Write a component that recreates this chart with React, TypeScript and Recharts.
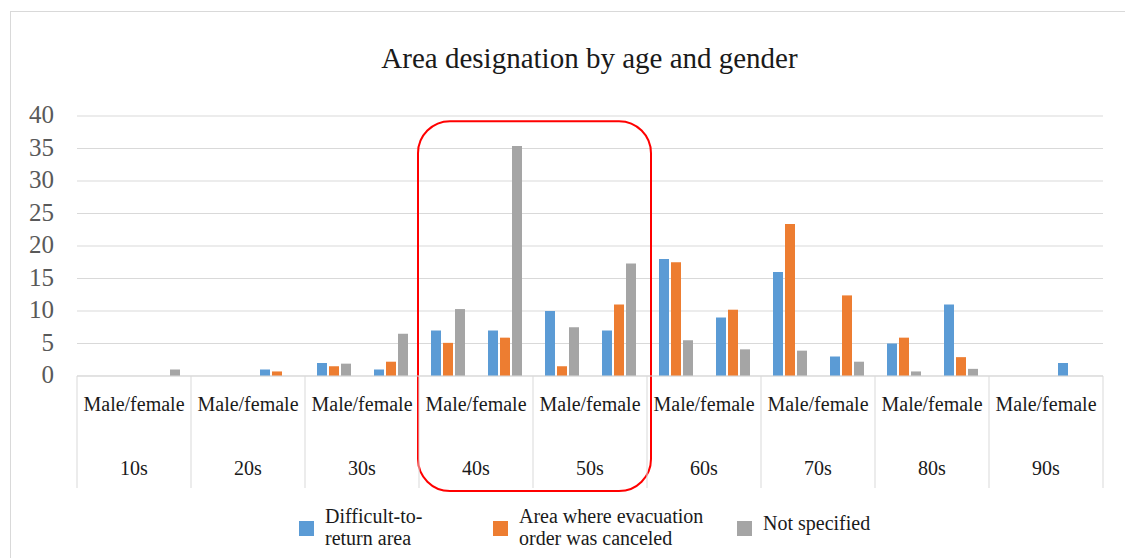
import { BarChart, Bar, XAxis, YAxis, CartesianGrid, Legend, ReferenceArea } from "recharts";

const AGES = ["10s", "20s", "30s", "40s", "50s", "60s", "70s", "80s", "90s"];
const GENDERS = ["Male", "Female"];
const PAIR_LABEL = "Male/female";

// one value per age × gender, male first
const DIFFICULT = [0, 0, 0, 1, 2, 1, 7, 7, 10, 7, 18, 9, 16, 3, 5, 11, 0, 2];
const CANCELED = [0, 0, 0, 0.7, 1.5, 2.2, 5.1, 5.9, 1.5, 11, 17.5, 10.2, 23.4, 12.4, 5.9, 2.9, 0, 0];
const UNSPECIFIED = [0, 1, 0, 0, 1.9, 6.5, 10.3, 35.4, 7.5, 17.3, 5.5, 4.1, 3.9, 2.2, 0.7, 1.1, 0, 0];

const Y_TICKS = [0, 5, 10, 15, 20, 25, 30, 35, 40];

const SERIES = [
  { key: "difficult", name: "Difficult-to-return area", lines: ["Difficult-to-", "return area"], color: "#5b9bd5" },
  { key: "canceled", name: "Area where evacuation order was canceled", lines: ["Area where evacuation", "order was canceled"], color: "#ed7d31" },
  { key: "unspecified", name: "Not specified", lines: ["Not specified"], color: "#a5a5a5" },
];

const rows = AGES.flatMap((age, i) =>
  GENDERS.map((g, j) => {
    const k = i * 2 + j;
    return {
      key: `${age} ${g}`,
      age,
      difficult: DIFFICULT[k],
      canceled: CANCELED[k],
      unspecified: UNSPECIFIED[k],
    };
  })
);

const SERIF = "Liberation Serif";
const GRID = "#d9d9d9";

function AgeTick(props: any) {
  const { x, y, payload, index, visibleTicksCount } = props;
  const half = payload?.offset ?? 57;
  return (
    <g>
      <line x1={x - half} x2={x - half} y1={y} y2={y + 112} stroke={GRID} />
      {index === visibleTicksCount - 1 && (
        <line x1={x + half} x2={x + half} y1={y} y2={y + 112} stroke={GRID} />
      )}
      <text x={x} y={y + 35} textAnchor="middle" fontFamily={SERIF} fontSize={20} fill="#1a1a1a">
        {PAIR_LABEL}
      </text>
      <text x={x} y={y + 99} textAnchor="middle" fontFamily={SERIF} fontSize={20} fill="#1a1a1a">
        {payload.value}
      </text>
    </g>
  );
}

function ValueTick(props: any) {
  const { x, y, payload } = props;
  return (
    <text x={x} y={y + 7} textAnchor="end" fontFamily={SERIF} fontSize={25} fill="#595959">
      {payload.value}
    </text>
  );
}

function RedBox(props: any) {
  const { x, y, width, height } = props;
  return (
    <rect x={x - 1} y={y} width={width + 5} height={height} rx={32} ry={32}
      fill="none" stroke="#ff0000" strokeWidth={2} />
  );
}

function LegendBox() {
  const widths = [194, 244, 200];
  return (
    <div style={{ display: "flex", paddingLeft: 299, fontFamily: SERIF, fontSize: 20, color: "#1a1a1a" }}>
      {SERIES.map((s, i) => (
        <div key={s.key} style={{ width: widths[i], display: "flex", alignItems: "center" }}>
          <span style={{ width: 15, height: 15, background: s.color, flex: "none", marginTop: 2 }} />
          <span
            style={{
              marginLeft: 11, lineHeight: "22px", whiteSpace: "nowrap",
              marginTop: s.lines.length === 1 ? -8 : 0,
            }}
          >
            {s.lines.map((l) => (
              <div key={l}>{l}</div>
            ))}
          </span>
        </div>
      ))}
    </div>
  );
}

export default function App() {
  return (
    <div style={{ position: "absolute", left: 0, top: 0, width: 1125, height: 558, overflow: "hidden", background: "#fff" }}>
      <div style={{ position: "absolute", left: 10, top: 11, width: 1200, height: 700, border: `1px solid ${GRID}` }} />
      <div
        style={{
          position: "absolute", top: 44, left: 0, width: 1125, paddingLeft: 54, boxSizing: "border-box",
          textAlign: "center", fontFamily: SERIF, fontSize: 29, lineHeight: "29px", color: "#1a1a1a",
        }}
      >
        Area designation by age and gender
      </div>
      <BarChart
        width={1125}
        height={558}
        data={rows}
        margin={{ top: 116, right: 22, left: 0, bottom: 67 }}
        barSize={10}
        barGap={2}
        style={{ position: "absolute", left: 0, top: 0 }}
      >
        <CartesianGrid vertical={false} stroke={GRID} />
        <XAxis dataKey="key" hide height={0} />
        <XAxis
          xAxisId="age"
          dataKey="age"
          allowDuplicatedCategory={false}
          height={115}
          interval={0}
          tickLine={false}
          tickSize={0}
          tickMargin={0}
          axisLine={{ stroke: GRID }}
          tick={<AgeTick />}
        />
        <YAxis
          width={77}
          domain={[0, 40]}
          ticks={Y_TICKS}
          interval={0}
          axisLine={false}
          tickLine={false}
          tickMargin={17}
          tick={<ValueTick />}
        />
        {SERIES.map((s) => (
          <Bar key={s.key} dataKey={s.key} name={s.name} fill={s.color} isAnimationActive={false} />
        ))}
        <ReferenceArea
          x1="40s Male"
          x2="50s Female"
          y1={-17.7}
          y2={39.2}
          ifOverflow="visible"
          shape={<RedBox />}
        />
        <Legend
          verticalAlign="middle"
          layout="horizontal"
          wrapperStyle={{ top: 505, left: 0, width: 1125 }}
          content={<LegendBox />}
        />
      </BarChart>
    </div>
  );
}
